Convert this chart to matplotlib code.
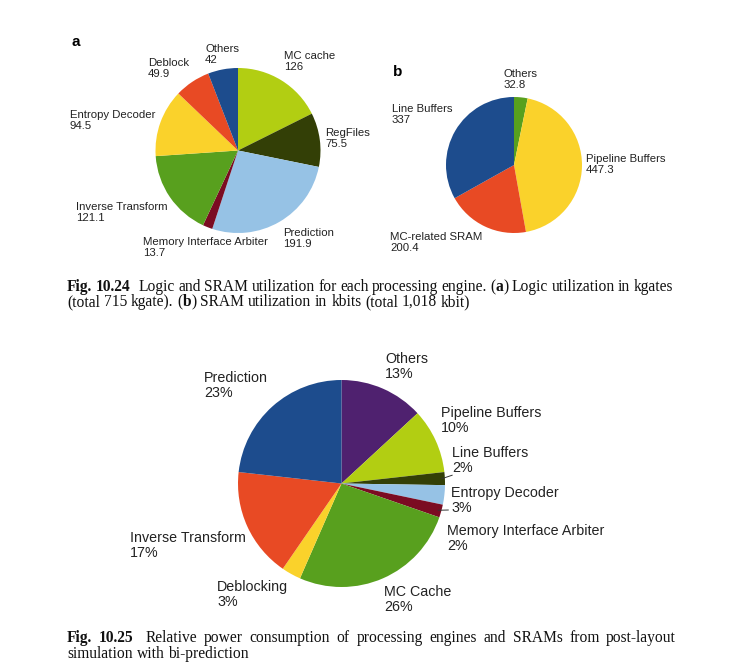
import matplotlib
matplotlib.use('Agg')
import matplotlib.pyplot as plt
import numpy as np

W, H = 736, 671

# Fig 10.24 (a) logic utilization, kgates
logic_names = ['MC cache', 'RegFiles', 'Prediction', 'Memory Interface Arbiter',
               'Inverse Transform', 'Entropy Decoder', 'Deblock', 'Others']
logic_vals = [126, 75.5, 191.9, 13.7, 121.1, 94.5, 49.9, 42]
logic_cols = ['#B2CE12', '#333F06', '#96C2E5', '#7B0C22',
              '#58A01E', '#FAD22B', '#E84A24', '#1D4C8D']

# Fig 10.24 (b) SRAM utilization, kbits
sram_names = ['Others', 'Pipeline Buffers', 'MC-related SRAM', 'Line Buffers']
sram_vals = [32.8, 447.3, 200.4, 337]
sram_cols = ['#58A01E', '#FAD22B', '#E84A24', '#1D4C8D']

# Fig 10.25 relative power, %
power_names = ['Others', 'Pipeline Buffers', 'Line Buffers', 'Entropy Decoder',
               'Memory Interface Arbiter', 'MC Cache', 'Deblocking',
               'Inverse Transform', 'Prediction']
power_vals = [13, 10, 2, 3, 2, 26, 3, 17, 23]
power_cols = ['#4F216F', '#B2CE12', '#333F06', '#96C2E5', '#7B0C22',
              '#58A01E', '#FAD22B', '#E84A24', '#1D4C8D']

fig = plt.figure(figsize=(W / 100, H / 100), dpi=100)
ax = fig.add_axes([0, 0, 1, 1])

SANS = 'Liberation Sans'
SERIF = 'Liberation Serif'


def pie(vals, cols, cx, cy, r):
    wedges, _ = ax.pie(vals, colors=cols, startangle=90, counterclock=False,
                       center=(cx, H - cy), radius=r,
                       wedgeprops=dict(linewidth=0))
    return wedges


def label(x, y, name, val, size, ls=1.15):
    ax.text(x, H - y, f'{name}\n{val}', fontsize=size, family=SANS,
            ha='left', va='top', linespacing=ls, color='#222222')


def leader(w, cx, cy, r):
    ang = np.deg2rad((w.theta1 + w.theta2) / 2)
    x0, y0 = cx + r * 0.97 * np.cos(ang), H - cy + r * 0.97 * np.sin(ang)
    x1, y1 = cx + r * 1.07 * np.cos(ang), H - cy + r * 1.07 * np.sin(ang) + 3
    ax.plot([x0, x1], [y0, y1], color='#333333', lw=0.7)


# ---- pie a
pie(logic_vals, logic_cols, 238, 150.5, 82.5)
ax.text(72, H - 42, 'a', fontsize=11, fontweight='bold', family=SANS, va='center')
pos_a = {'MC cache': (284, 51), 'RegFiles': (325, 128), 'Prediction': (283, 228),
         'Memory Interface Arbiter': (143, 237), 'Inverse Transform': (76, 202),
         'Entropy Decoder': (70, 110), 'Deblock': (148, 58), 'Others': (205, 44)}
for n, v in zip(logic_names, logic_vals):
    label(*pos_a[n], n, v, 8.2)

# ---- pie b
pie(sram_vals, sram_cols, 514, 165, 68)
ax.text(393, H - 72, 'b', fontsize=11, fontweight='bold', family=SANS, va='center')
pos_b = {'Others': (504, 69), 'Pipeline Buffers': (586, 154),
         'MC-related SRAM': (390, 232), 'Line Buffers': (392, 104)}
for n, v in zip(sram_names, sram_vals):
    label(*pos_b[n], n, v, 8.2)

# ---- pie c
cx, cy, r = 341.5, 483.5, 103.5
wc = pie(power_vals, power_cols, cx, cy, r)
pos_c = {'Others': (385, 352), 'Pipeline Buffers': (441, 406), 'Line Buffers': (452, 446),
         'Entropy Decoder': (451, 486), 'Memory Interface Arbiter': (447, 524),
         'MC Cache': (384, 585), 'Deblocking': (217, 580),
         'Inverse Transform': (130, 531), 'Prediction': (204, 371)}
for n, v in zip(power_names, power_vals):
    label(*pos_c[n], n, f'{v}%', 10.3, ls=1.1)
for i, n in enumerate(power_names):
    if n in ('Line Buffers', 'Memory Interface Arbiter'):
        leader(wc[i], cx, cy, r)

# ---- captions (Times-like, first lines justified)
renderer = fig.canvas.get_renderer()
CAP = 11.2


def mixed_line(pieces, x0, y, x1=None, size=CAP):
    # pieces: list of words, each word a list of (text, bold) segments
    words = []
    for segs, extra in pieces:
        ts = []
        wsum = 0
        for s, b in segs:
            t = ax.text(0, H - y, s, fontsize=size, family=SERIF,
                        fontweight='bold' if b else 'normal', va='baseline', ha='left',
                        color='#111111')
            w = t.get_window_extent(renderer).width
            ts.append((t, w))
            wsum += w
        words.append((ts, wsum, extra))
    sp = size * 100 / 72 * 0.25
    total = sum(w for _, w, _ in words) + sum(e for _, _, e in words)
    gap = (x1 - x0 - total) / (len(words) - 1) if x1 is not None else sp
    gap = max(gap, sp * 0.6)
    x = x0
    for ts, wsum, e in words:
        x += e
        xx = x
        for t, w in ts:
            t.set_x(xx)
            xx += w
        x += wsum + gap


def plain(s, bold=False, extra=0):
    return [([(wd, bold)], extra if i == 0 else 0) for i, wd in enumerate(s.split())]


line1 = (plain('Fig. 10.24', True) + plain('Logic and SRAM utilization for each processing engine.', extra=5)
         + [([('(', False), ('a', True), (')', False)], 0)]
         + plain('Logic utilization in kgates'))
mixed_line(line1, 67, 291, 673)
line2 = (plain('(total 715 kgate).') + [([('(', False), ('b', True), (')', False)], 0)]
         + plain('SRAM utilization in kbits (total 1,018 kbit)'))
mixed_line(line2, 67, 306)

line3 = plain('Fig. 10.25', True) + plain('Relative power consumption of processing engines and SRAMs from post-layout', extra=5)
mixed_line(line3, 67, 642, 676)
mixed_line(plain('simulation with bi-prediction'), 67, 658)

ax.set_xlim(0, W)
ax.set_ylim(0, H)
ax.set_aspect('auto')
ax.axis('off')
fig.savefig('out.png', dpi=100)
